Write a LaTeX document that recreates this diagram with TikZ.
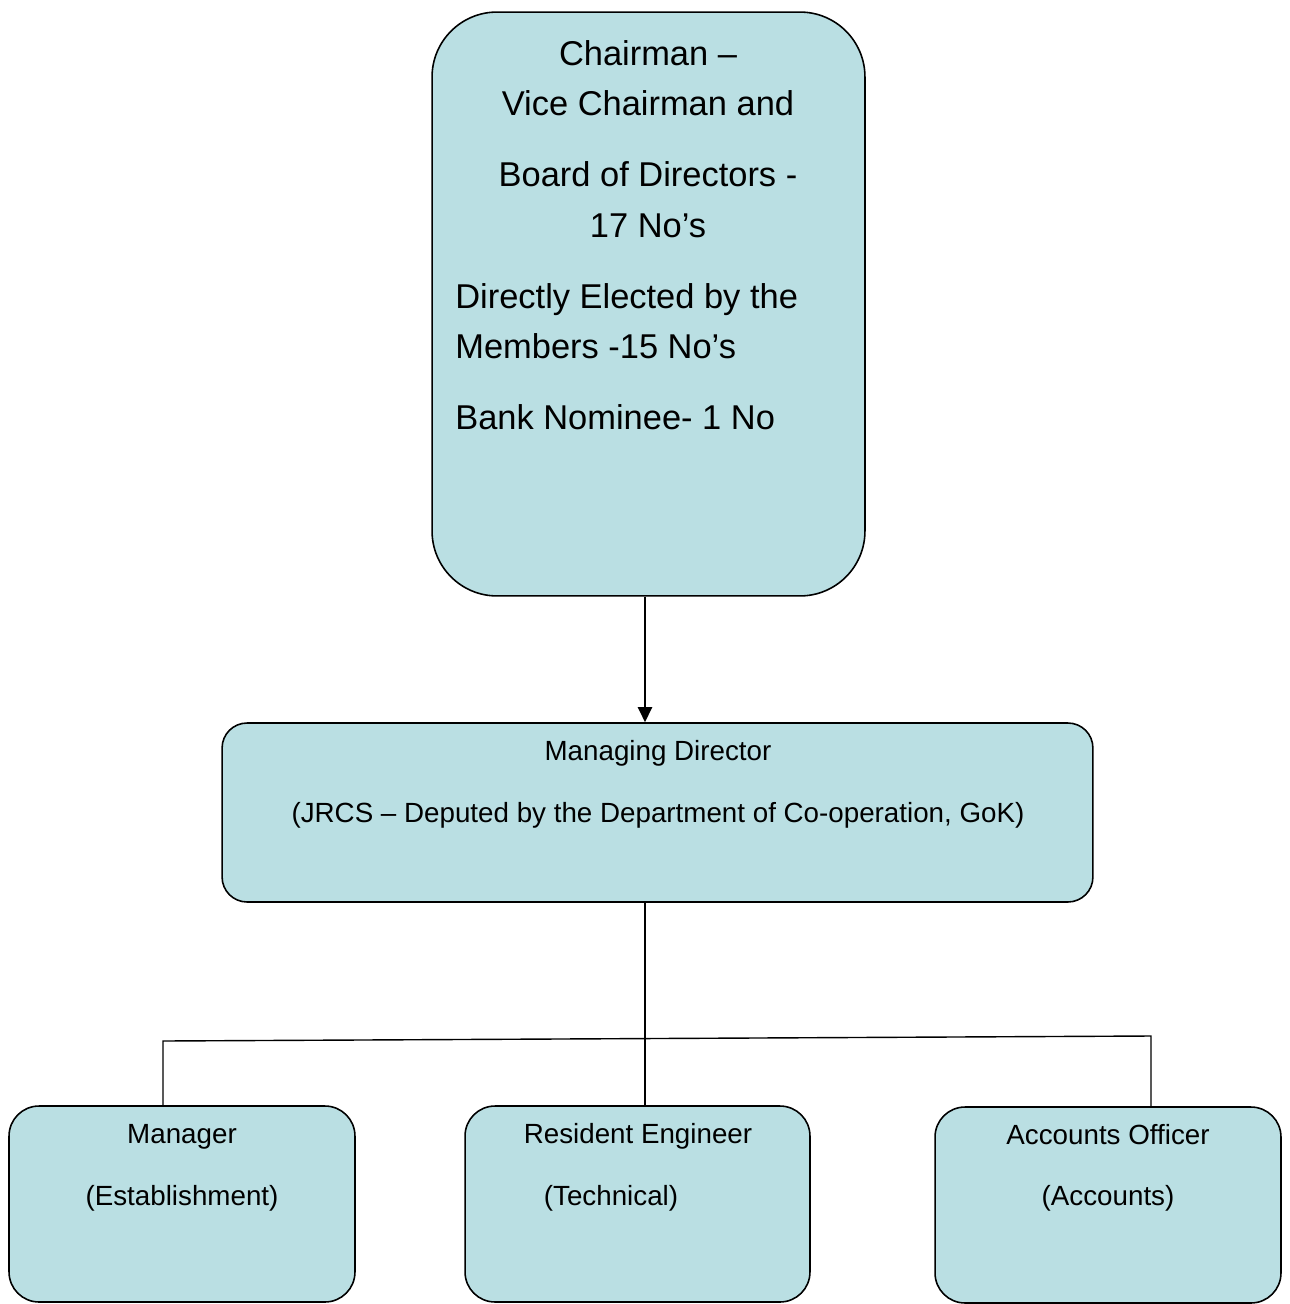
\documentclass[tikz,border=0pt]{standalone}
\usepackage{fontspec}
\setmainfont{Liberation Sans}
\usetikzlibrary{arrows.meta}
\definecolor{boxblue}{RGB}{186,223,227}

\begin{document}
\begin{tikzpicture}[x=0.02cm, y=-0.02cm,
    box/.style={draw, fill=boxblue, line width=0.9pt, inner sep=0pt},
    bigtext/.style={font=\fontsize{19.6}{23}\selectfont, inner sep=0pt},
    smalltext/.style={font=\fontsize{15.8}{19}\selectfont, inner sep=0pt},
    link/.style={line width=0.8pt}]
    \useasboundingbox (0,0) rectangle (1289,1304);
    % boxes
    \node [box, rounded corners=1.3cm, minimum width=8.66cm, minimum height=11.68cm] (board) at (648.5,304) {};
    \node [box, rounded corners=0.5cm, minimum width=17.42cm, minimum height=3.58cm] (md) at (657.5,812.5) {};
    \node [box, rounded corners=0.6cm, minimum width=6.92cm, minimum height=3.92cm] (mgr) at (182,1204) {};
    \node [box, rounded corners=0.6cm, minimum width=6.9cm, minimum height=3.92cm] (re) at (637.5,1204) {};
    \node [box, rounded corners=0.6cm, minimum width=6.92cm, minimum height=3.92cm] (ao) at (1108,1205) {};
    % texts
    \node [bigtext, anchor=base] (chair) at (648,66) {Chairman –};
    \node [bigtext, anchor=base] (vice) at (648,116) {Vice Chairman and};
    \node [bigtext, anchor=base] (bod) at (648,187) {Board of Directors -};
    \node [bigtext, anchor=base] (seventeen) at (648,237) {17 No’s};
    \node [bigtext, anchor=base west] (elected) at (455,308) {Directly Elected by the};
    \node [bigtext, anchor=base west] (members) at (455,358) {Members -15 No’s};
    \node [bigtext, anchor=base west] (nominee) at (455,429) {Bank Nominee- 1 No};
    \node [smalltext, anchor=base] (mdname) at (658,760) {Managing Director};
    \node [smalltext, anchor=base] (jrcs) at (658,822) {(JRCS – Deputed by the Department of Co-operation, GoK)};
    \node [smalltext, anchor=base] (mgrname) at (182,1143) {Manager};
    \node [smalltext, anchor=base] (est) at (182,1205) {(Establishment)};
    \node [smalltext, anchor=base] (rename) at (638,1143) {Resident Engineer};
    \node [smalltext, anchor=base] (tech) at (611,1205) {(Technical)};
    \node [smalltext, anchor=base] (aoname) at (1108,1144) {Accounts Officer};
    \node [smalltext, anchor=base] (acc) at (1108,1205) {(Accounts)};
    % connectors
    \coordinate (drop) at (645,1039);
    \coordinate (tl) at (163,1041);
    \coordinate (tr) at (1151,1036);
    \draw [line width=1.2pt, -{Triangle[width=0.28cm,length=0.3cm]}] (board.south -| drop) -- (md.north -| drop);
    \draw [link] (md.south -| drop) -- (re.north -| drop);
    \draw [link] (mgr.north -| tl) -- (tl) -- (tr) -- (ao.north -| tr);
\end{tikzpicture}
\end{document}
